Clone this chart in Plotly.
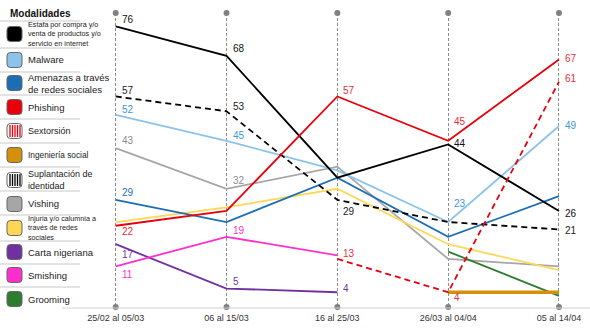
import plotly.graph_objects as go

periods = ["25/02 al 05/03", "06 al 15/03", "16 al 25/03", "26/03 al 04/04", "05 al 14/04"]

estafa = [76, 68, 35, 44, 26]
malware = [52, 45, 37, 23, 49]
amenazas = [29, 23, 35, 19, 30]
phishing = [22, 26, 57, 45, 67]
sextorsion = [None, None, 13, 4, 61]
ingenieria = [None, None, None, 4, 4]
suplantacion = [57, 53, 29, 23, 21]
vishing = [43, 32, 38, 13, 11]
injuria = [23, 27, 32, 17, 10]
carta = [17, 5, 4, None, None]
smishing = [11, 19, 14, None, None]
grooming = [None, None, None, 15, 3]

# (name, values, color, dash, width, label color, labels: {point index: y shift px})
series = [
    ("Vishing", vishing, "#A6A6A6", "solid", 1.8, "#8C8C8C", {0: 8, 1: 8}),
    ("Injuria", injuria, "#FFD757", "solid", 1.8, "#E0B000", {}),
    ("Grooming", grooming, "#2E7D2E", "solid", 1.8, "#2E7D2E", {}),
    ("Ingeniería social", ingenieria, "#D4900B", "solid", 3.5, "#D4900B", {}),
    ("Carta nigeriana", carta, "#7030A0", "solid", 1.8, "#7030A0", {0: -10, 1: 7, 2: 4}),
    ("Smishing", smishing, "#FF2ECC", "solid", 1.8, "#FF2ECC", {0: -8, 1: 6}),
    ("Amenazas", amenazas, "#1B6EB5", "solid", 1.8, "#1B6EB5", {0: 7}),
    ("Malware", malware, "#8CC3EA", "solid", 1.8, "#3F96DA", {0: 5, 1: 5, 3: 19, 4: 1}),
    ("Suplantación", suplantacion, "#000000", "6px,4px", 1.8, "#222222", {0: 6, 1: 5, 2: -12, 4: -1}),
    ("Estafa", estafa, "#000000", "solid", 1.8, "#111111", {0: 7, 1: 7, 3: 1, 4: -3}),
    ("Sextorsión", sextorsion, "#E8000B", "6px,4px", 1.8, "#E8303A", {2: 5, 3: -5, 4: 3}),
    ("Phishing", phishing, "#E8000B", "solid", 1.8, "#E8303A", {0: -6, 2: 6, 3: 19, 4: 1}),
]

L, R, T, B = 82, 0, 13, 22
W, H = 590, 329
PW = W - L - R
PH = H - T - B
ymax = 79.6


def px(x):
    return (x - L) / PW


def py(y):
    return (H - B - y) / PH


fig = go.Figure()
xs = list(range(len(periods)))

for name, vals, color, dash, width, lc, labels in series:
    fig.add_trace(go.Scatter(
        x=xs, y=vals, mode="lines", name=name,
        line=dict(color=color, width=width, dash=dash),
        connectgaps=False, hoverinfo="skip", showlegend=False,
    ))
    for i, dy in labels.items():
        fig.add_annotation(
            x=xs[i], y=vals[i], text=str(vals[i]), showarrow=False,
            xanchor="left", yanchor="middle", xshift=4, yshift=dy,
            font=dict(family="Liberation Sans, Arial", size=10, color=lc),
        )

# end dots on category lines
fig.add_trace(go.Scatter(
    x=xs + xs, y=[0] * len(xs) + [ymax] * len(xs), mode="markers",
    marker=dict(color="#808080", size=6), cliponaxis=False,
    hoverinfo="skip", showlegend=False,
))

shapes = []
annotations = []

# baseline
shapes.append(dict(type="line", xref="paper", yref="paper", x0=px(62), x1=px(590),
                   y0=py(308), y1=py(308), line=dict(color="#D0D0D0", width=1)))

# Legend
legend_items = [
    ("Estafa por compra y/o<br>venta de productos y/o<br>servicio en internet", "#000000", None, 7.2, 34),
    ("Malware", "#8CC3EA", None, 9.5, 60),
    ("Amenazas a través<br>de redes sociales", "#1B6EB5", None, 9.5, 83),
    ("Phishing", "#E8000B", None, 9.5, 107),
    ("Sextorsión", "#FFFFFF", "#E8000B", 9, 131),
    ("Ingeniería social", "#D4900B", None, 8.3, 155),
    ("Suplantación de<br>identidad", "#FFFFFF", "#000000", 9, 180),
    ("Vishing", "#A6A6A6", None, 9.5, 204),
    ("Injuria y/o calumnia a<br>través de redes<br>sociales", "#FFD757", None, 7.2, 228),
    ("Carta nigeriana", "#7030A0", None, 9.5, 252),
    ("Smishing", "#FF2ECC", None, 9.5, 275),
    ("Grooming", "#2E7D2E", None, 9.5, 299),
]
seps = [21, 48, 72, 95, 119, 143, 167, 191, 215, 241, 264, 287]
for s in seps:
    shapes.append(dict(type="line", xref="paper", yref="paper", x0=px(0), x1=px(80),
                       y0=py(s), y1=py(s), line=dict(color="#C8C8C8", width=1)))

annotations.append(dict(x=px(8), y=py(13), xref="paper", yref="paper", text="<b>Modalidades</b>",
                        showarrow=False, xanchor="left", yanchor="middle",
                        font=dict(family="Liberation Sans, Arial", size=10, color="#111111")))


def rrect(x0, y0, x1, y1, r):
    def P(x, y):
        return f"{px(x):.5f},{py(y):.5f}"
    return (f"M {P(x0 + r, y0)} L {P(x1 - r, y0)} Q {P(x1, y0)} {P(x1, y0 + r)} "
            f"L {P(x1, y1 - r)} Q {P(x1, y1)} {P(x1 - r, y1)} L {P(x0 + r, y1)} "
            f"Q {P(x0, y1)} {P(x0, y1 - r)} L {P(x0, y0 + r)} Q {P(x0, y0)} {P(x0 + r, y0)} Z")


for text, fill, stripe, fs, cy in legend_items:
    x0, x1 = 7, 22
    y0, y1 = cy - 7.5, cy + 7.5
    shapes.append(dict(type="path", xref="paper", yref="paper", path=rrect(x0, y0, x1, y1, 3.5),
                       fillcolor=fill, line=dict(color="#666666", width=1)))
    if stripe:
        for k in range(5):
            xx = 10 + k * 2.5
            shapes.append(dict(type="line", xref="paper", yref="paper", x0=px(xx), x1=px(xx),
                               y0=py(y0 + 1.5), y1=py(y1 - 1.5), line=dict(color=stripe, width=1.3)))
    annotations.append(dict(x=px(26), y=py(cy), xref="paper", yref="paper", text=text,
                            showarrow=False, xanchor="left", yanchor="middle", align="left",
                            font=dict(family="Liberation Sans, Arial", size=fs, color="#222222")))

fig.update_layout(
    width=W, height=H,
    margin=dict(l=L, r=R, t=T, b=B, autoexpand=False),
    paper_bgcolor="white", plot_bgcolor="white",
    xaxis=dict(range=[-(115.7 - L) / 110.8, 4 + (590 - 559) / 110.8], tickmode="array",
               tickvals=xs, ticktext=periods, showgrid=True, gridcolor="#8C8C8C",
               griddash="3px,2px", gridwidth=1, zeroline=False, showline=False, ticks="",
               automargin=False, ticklabelstandoff=4,
               tickfont=dict(family="Liberation Sans, Arial", size=9, color="#333333")),
    yaxis=dict(range=[0, ymax], showgrid=False, zeroline=False, showticklabels=False,
               showline=False, automargin=False),
    shapes=shapes,
    showlegend=False,
)
for a in annotations:
    fig.add_annotation(**a)

fig.write_html("out.html", post_script="document.body.style.margin='0';",
               config={"displayModeBar": False})
